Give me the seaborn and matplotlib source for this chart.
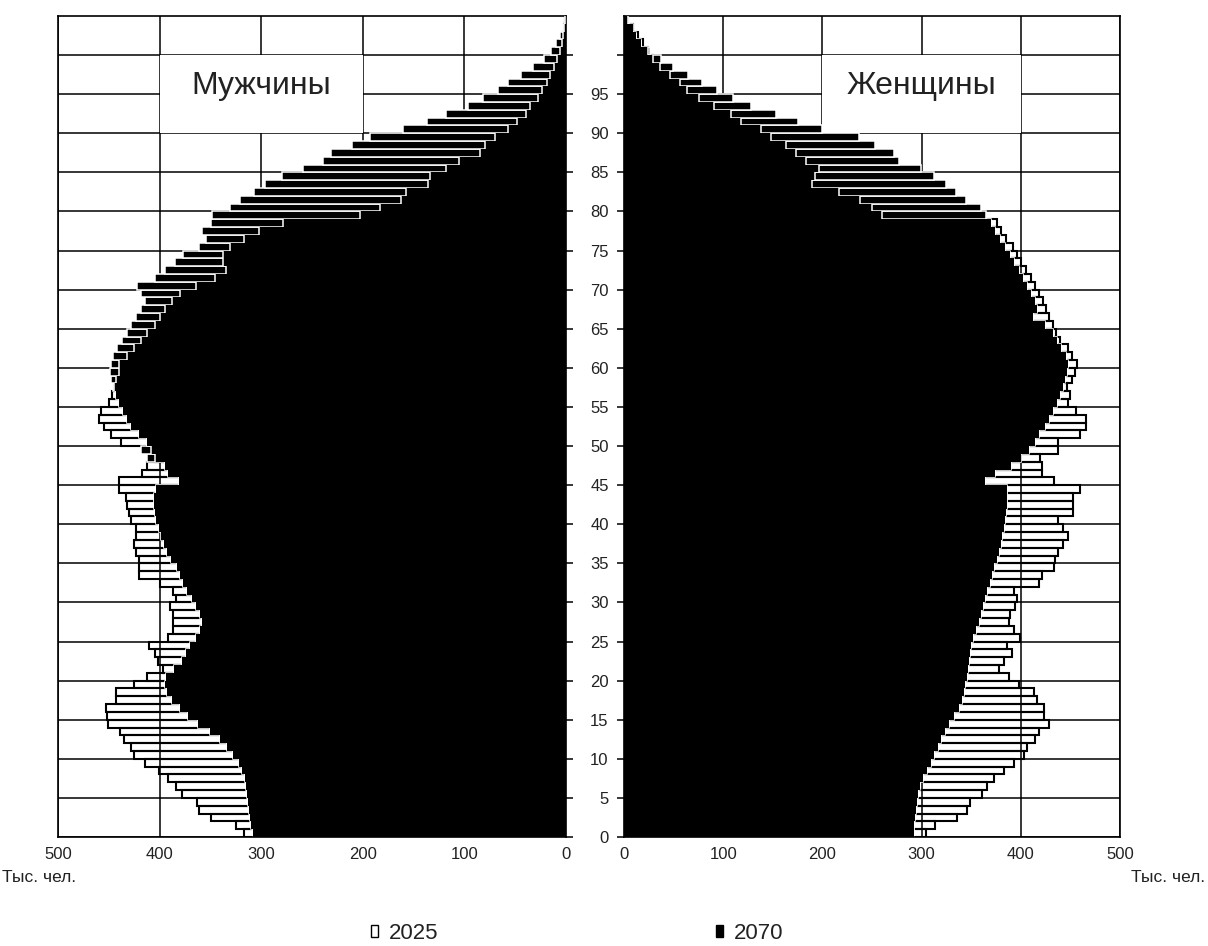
import matplotlib
matplotlib.use('Agg')  # no display
import numpy as np
import matplotlib.pyplot as plt
import seaborn as sns
from matplotlib.patches import Patch, Rectangle

# ages 0..104, values in thousands of people
ages = np.arange(0, 105)

men_2025 = [317, 325, 349, 361, 363, 378, 384, 392, 401, 414,
            425, 428, 435, 439, 451, 452, 453, 443, 443, 425,
            412, 397, 402, 405, 410, 392, 387, 387, 387, 390,
            384, 387, 400, 420, 420, 420, 423, 425, 423, 423,
            428, 430, 432, 433, 440, 440, 417, 412, 405, 408,
            438, 448, 455, 460, 458, 450, 447, 445, 443, 440,
            440, 432, 425, 418, 412, 405, 400, 395, 388, 380,
            364, 345, 335, 338, 338, 331, 317, 302, 279, 203,
            183, 162, 157, 136, 134, 118, 105, 85, 80, 70,
            57, 48, 39, 35, 28, 24, 19, 16, 12, 9,
            6, 4, 2.5, 1.5, 0.5]

men_2070 = [308, 310, 311, 312, 313, 314, 315, 316, 319, 322,
            328, 334, 341, 350, 362, 372, 380, 388, 393, 395,
            394, 386, 378, 374, 370, 364, 360, 358, 360, 364,
            368, 373, 377, 380, 383, 389, 393, 396, 399, 401,
            404, 405, 406, 406, 404, 381, 392, 395, 412, 418,
            412, 420, 428, 432, 436, 440, 443, 446, 448, 449,
            448, 446, 442, 437, 432, 428, 423, 418, 414, 418,
            422, 405, 395, 385, 377, 361, 354, 358, 349, 348,
            331, 321, 307, 296, 280, 259, 239, 231, 211, 193,
            160, 137, 118, 96, 82, 67, 57, 44, 32, 22,
            15, 10, 6, 3, 1]

women_2025 = [304, 314, 336, 346, 349, 361, 366, 373, 383, 393,
              403, 406, 414, 418, 428, 423, 423, 416, 413, 398,
              388, 378, 383, 391, 386, 399, 393, 388, 389, 394,
              396, 393, 418, 421, 433, 434, 438, 443, 448, 443,
              438, 453, 453, 453, 460, 433, 421, 421, 419, 438,
              438, 460, 466, 466, 456, 448, 450, 447, 452, 455,
              457, 452, 448, 440, 435, 432, 428, 425, 422, 418,
              414, 410, 405, 400, 396, 392, 385, 380, 376, 260,
              250, 238, 217, 190, 193, 197, 183, 173, 163, 148,
              138, 118, 108, 91, 76, 64, 56, 46, 36, 29,
              24, 19, 14, 9, 4.5]

women_2070 = [292, 292, 293, 294, 295, 296, 298, 301, 305, 309,
              313, 317, 320, 324, 328, 333, 338, 341, 343, 344,
              346, 347, 348, 349, 350, 352, 355, 358, 360, 362,
              364, 366, 369, 371, 373, 376, 378, 380, 381, 383,
              384, 385, 386, 386, 386, 364, 374, 390, 400, 408,
              414, 418, 424, 428, 432, 436, 440, 443, 445, 447,
              448, 446, 441, 436, 432, 424, 412, 416, 414, 410,
              406, 402, 398, 393, 389, 384, 379, 374, 370, 365,
              360, 345, 335, 325, 313, 299, 277, 272, 253, 237,
              200, 175, 153, 128, 110, 94, 79, 65, 49, 37,
              26, 17, 12, 9, 5]

x_ticks = [0, 100, 200, 300, 400, 500]
age_ticks = list(range(0, 101, 5))
age_labels = [str(a) if a < 100 else '' for a in age_ticks]

sns.set_theme(style='white')
plt.rcParams['font.family'] = ['Liberation Sans', 'DejaVu Sans']
text_color = '#222222'

fig = plt.figure(figsize=(12.08, 9.46), dpi=100)
ax_l = fig.add_axes([58 / 1208, 1 - 837 / 946, 508 / 1208, 821 / 946])
ax_r = fig.add_axes([624 / 1208, 1 - 837 / 946, 496 / 1208, 821 / 946])


def draw_side(ax, v2025, v2070):
    v2025 = np.asarray(v2025, dtype=float)
    v2070 = np.asarray(v2070, dtype=float)
    pos = ages + 0.5  # each bar covers [age, age + 1]

    # 2025: outline only
    sns.barplot(x=v2025, y=pos, orient='h', native_scale=True, width=1,
                fill=False, color='black', linewidth=1.5, errorbar=None, ax=ax)
    # 2070: black bars with white separators
    sns.barplot(x=v2070, y=pos, orient='h', native_scale=True, width=1,
                color='black', edgecolor='white', linewidth=1.1,
                saturation=1, errorbar=None, ax=ax)
    # common part of both years is solid black
    sns.barplot(x=np.minimum(v2025, v2070), y=pos, orient='h', native_scale=True,
                width=1, color='black', linewidth=0, saturation=1,
                errorbar=None, ax=ax)
    # white end of the 2025 bar where 2070 is longer
    mask = v2025 < v2070
    ax.vlines(v2025[mask], ages[mask], ages[mask] + 1, color='white', lw=1.1, zorder=3)

    ax.set_ylim(0, 105)
    ax.set_xticks(x_ticks)
    ax.set_yticks(age_ticks)
    ax.set_xlabel('')
    ax.set_ylabel('')
    ax.set_axisbelow(True)
    ax.grid(True, color='black', linewidth=1.1)
    for sp in ax.spines.values():
        sp.set_visible(True)
        sp.set_color('black')
        sp.set_linewidth(1.2)
    ax.tick_params(axis='both', direction='out', length=5, width=1.1,
                   color='black', labelsize=12, labelcolor=text_color, pad=2)


draw_side(ax_l, men_2025, men_2070)
draw_side(ax_r, women_2025, women_2070)

ax_l.set_xlim(500, 0)
ax_r.set_xlim(0, 500)

ax_l.yaxis.tick_right()
ax_l.yaxis.set_ticks_position('right')
ax_l.tick_params(axis='y', left=False, right=True, labelleft=False, labelright=False)
ax_r.tick_params(axis='y', left=True, right=False, labelleft=True, pad=6)
ax_r.set_yticklabels(age_labels)
ax_l.set_xticklabels([str(t) for t in x_ticks])
ax_r.set_xticklabels([str(t) for t in x_ticks])

# title boxes covering the grid cells
for ax, title in [(ax_l, 'Мужчины'), (ax_r, 'Женщины')]:
    ax.add_patch(Rectangle((200, 90), 200, 10, facecolor='white', edgecolor='none', zorder=0.8))
    ax.text(300, 96, title, ha='center', va='center', fontsize=23, color=text_color, zorder=4)

fig.text(2 / 1208, 1 - 877 / 946, 'Тыс. чел.', ha='left', va='center', fontsize=12.5, color=text_color)
fig.text(1205 / 1208, 1 - 877 / 946, 'Тыс. чел.', ha='right', va='center', fontsize=12.5, color=text_color)

handles = [Patch(facecolor='white', edgecolor='black', linewidth=1),
           Patch(facecolor='black', edgecolor='black', linewidth=1)]
fig.legend(handles, ['2025', '2070'], loc='center', bbox_to_anchor=(577 / 1208, 1 - 933 / 946),
           ncol=2, frameon=False, fontsize=16, handlelength=0.3, handleheight=0.45,
           handletextpad=0.5, columnspacing=12.5, labelcolor=text_color)

fig.savefig('out.png', dpi=100)
plt.close(fig)
